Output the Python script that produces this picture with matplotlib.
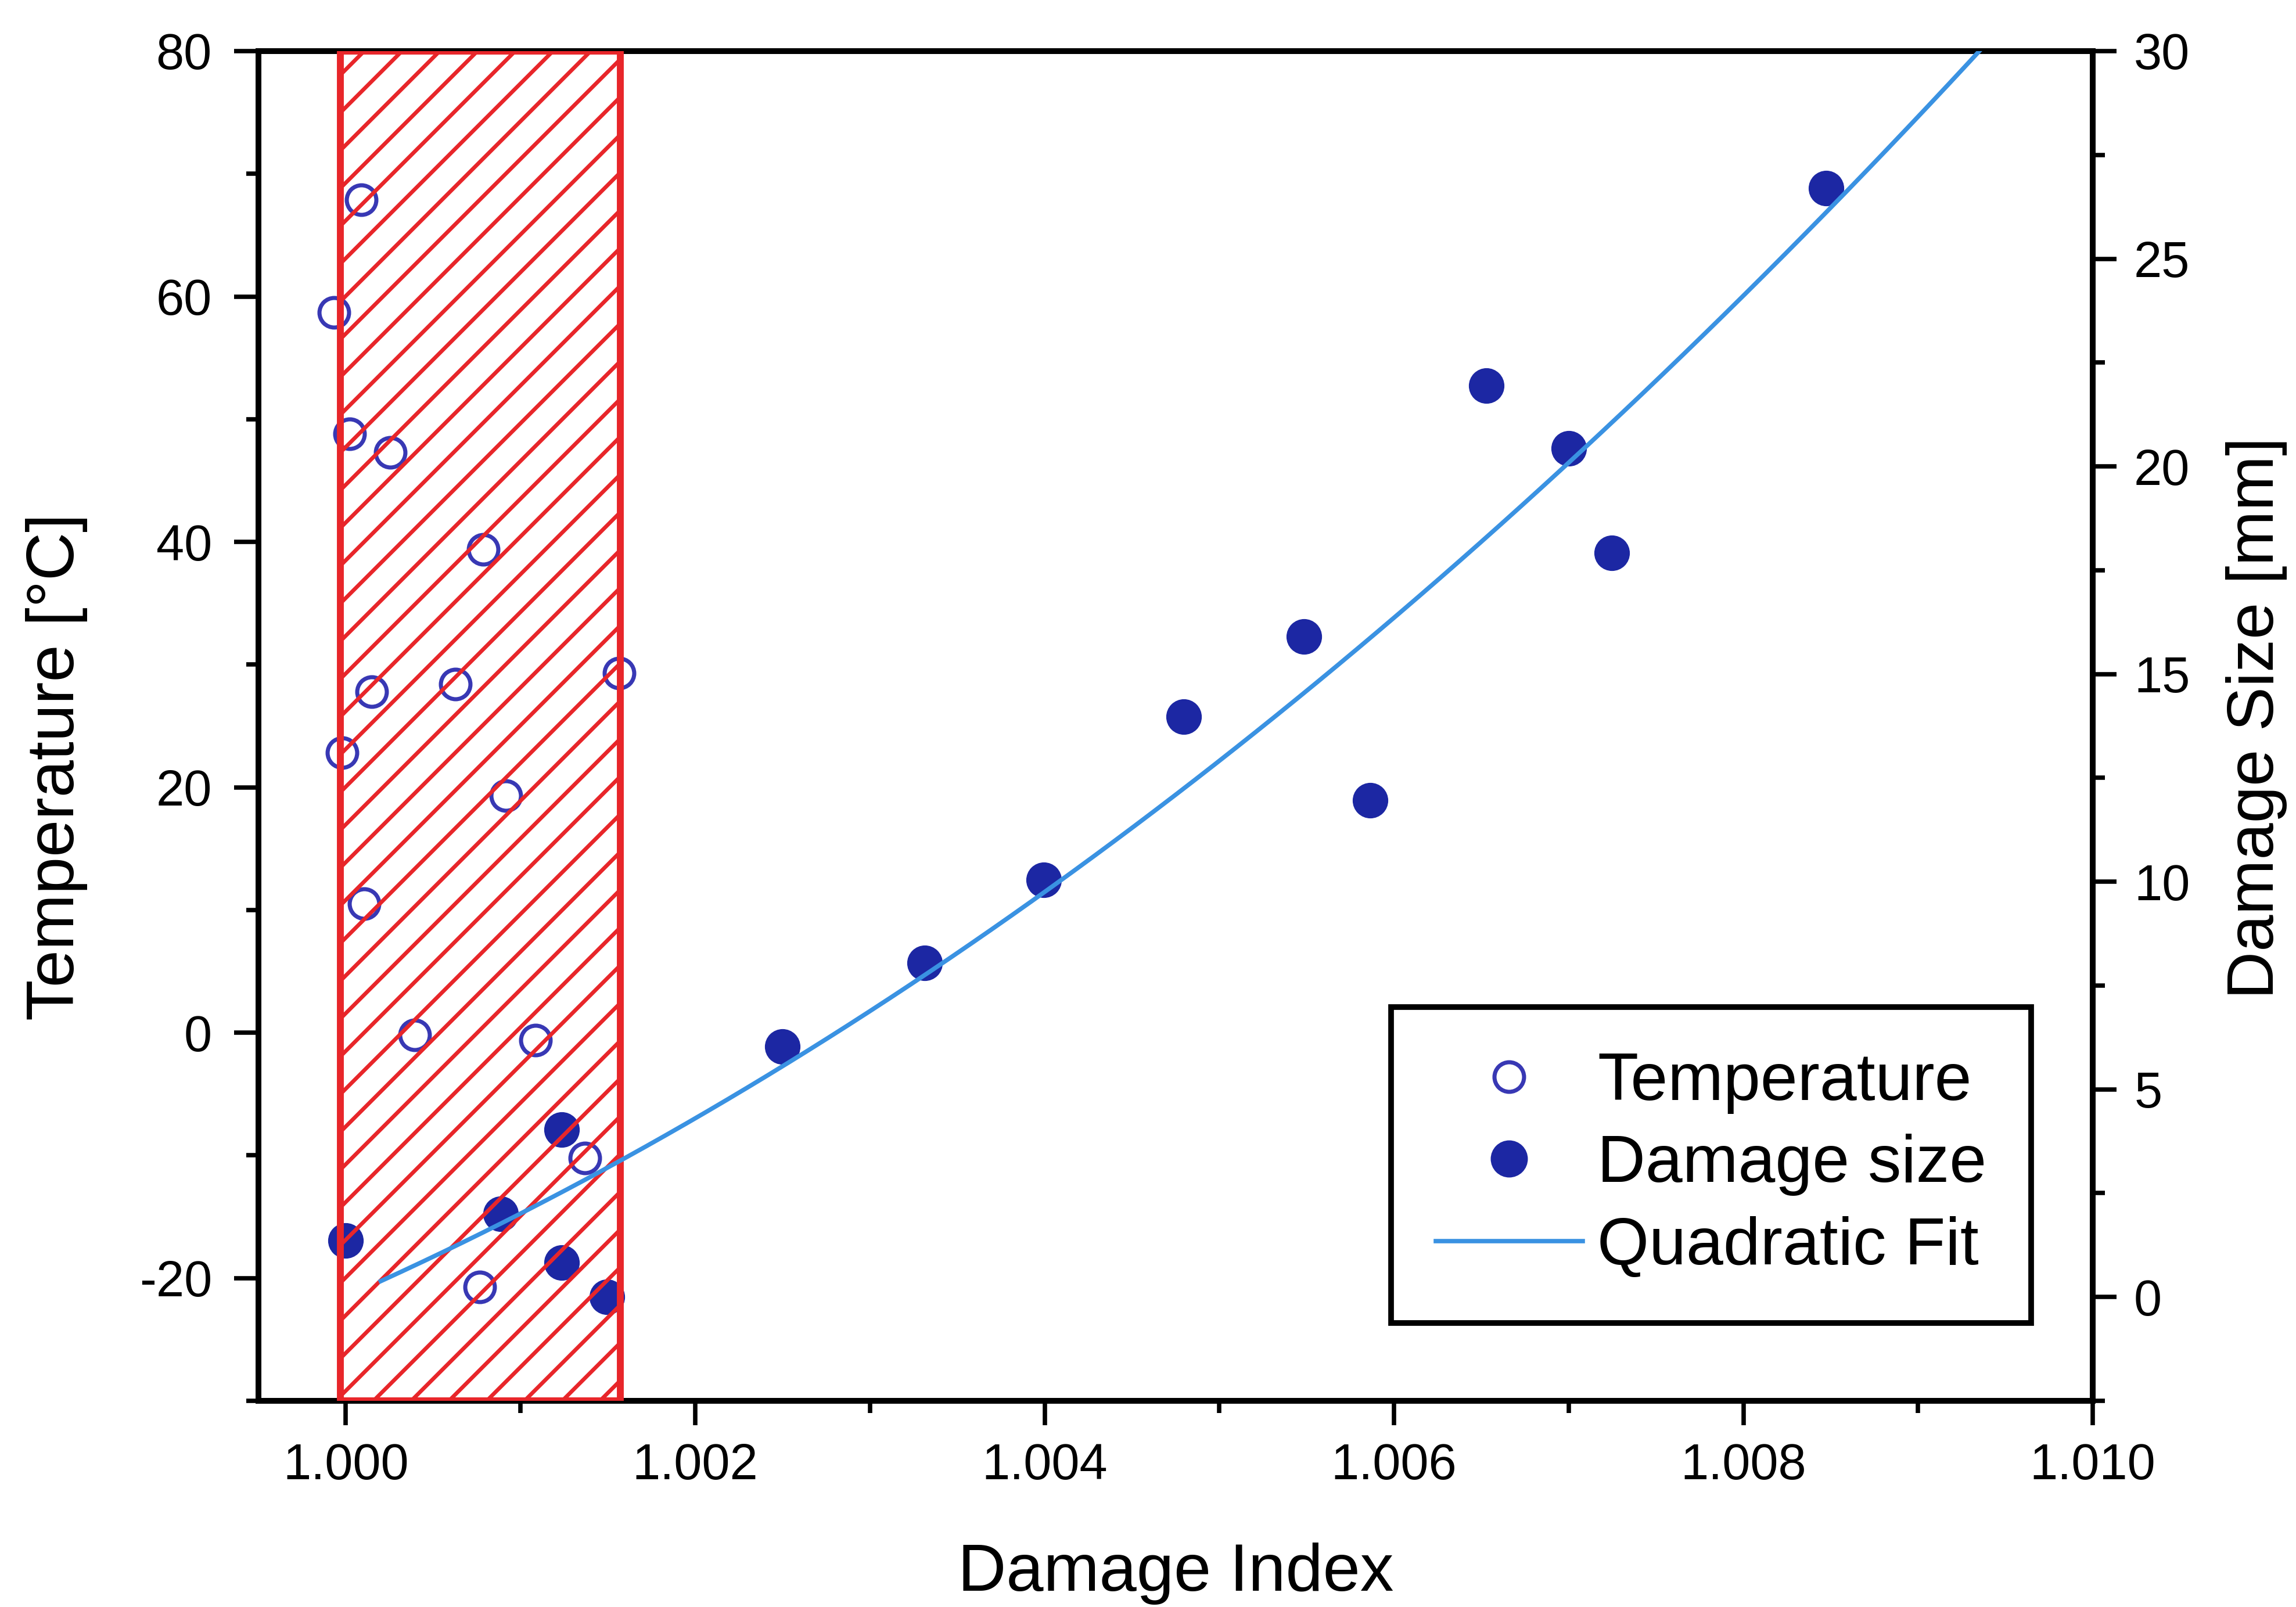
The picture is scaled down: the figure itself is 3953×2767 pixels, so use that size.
import numpy as np
import matplotlib
matplotlib.use("Agg")
import matplotlib.pyplot as plt
from matplotlib.lines import Line2D
from matplotlib.ticker import MultipleLocator, FormatStrFormatter

plt.rcParams["font.family"] = ["Liberation Sans", "DejaVu Sans"]
plt.rcParams["axes.unicode_minus"] = False
plt.rcParams["hatch.linewidth"] = 1.25

# Temperature test points (damage index, temperature in degC)
temp_index = [1.000087, 0.999933, 1.000023, 1.000254, 1.000788, 1.000147,
              1.000628, 1.001563, 0.999977, 1.000915, 1.000104, 1.000394,
              1.001085, 1.001369, 1.000765]
temp_values = [67.9, 58.7, 48.8, 47.3, 39.4, 27.8,
               28.4, 29.3, 22.8, 19.3, 10.5, -0.2,
               -0.6, -10.2, -20.7]

# Damage size test points (damage index, damage size in mm)
dmg_index = [0.999997, 1.000885, 1.001235, 1.001235, 1.001496, 1.002497,
             1.003313, 1.003995, 1.004795, 1.005485, 1.005864, 1.006529,
             1.007000, 1.007245, 1.008474]
dmg_values = [1.36, 2.0, 4.03, 0.83, 0.0, 6.03,
              8.04, 10.05, 13.97, 15.9, 11.96, 21.95,
              20.43, 17.92, 26.7]

# Temperature-insensitive band of the damage index
band_range = (0.99997, 1.00157)
# Range over which the quadratic fit is drawn
fit_range = (1.0002, 1.0095)

x_limits = (0.9995, 1.010)
temp_limits = (-30, 80)
size_limits = (-2.5, 30)

DPI = 390
fig = plt.figure(figsize=(3953 / DPI, 2767 / DPI), dpi=DPI)
ax = fig.add_axes([0.1126, 0.1283, 0.7989, 0.8399])
ax2 = ax.twinx()

open_col = "#3838b4"
fill_col = "#1c27a3"
fit_col = "#3a92e2"
band_col = "#e8262a"

ax.plot(temp_index, temp_values, ls="none", marker="o", ms=9.4,
        mfc="none", mec=open_col, mew=1.3, zorder=3)

ax2.plot(dmg_index, dmg_values, ls="none", marker="o", ms=10.8,
         mfc=fill_col, mec=fill_col, mew=0.5, zorder=2)

ax2.axvspan(band_range[0], band_range[1], fill=False, hatch="//",
            edgecolor=band_col, lw=2.2, zorder=4)

# Quadratic least-squares fit of damage size against damage index
u = np.asarray(dmg_index) - 1.0
coef = np.polyfit(u, dmg_values, 2)
xf = np.linspace(fit_range[0], fit_range[1], 400)
yf = np.polyval(coef, xf - 1.0)
ax2.plot(xf, yf, color=fit_col, lw=1.4, zorder=5)

ax.set_xlim(*x_limits)
ax.set_ylim(*temp_limits)
ax2.set_ylim(*size_limits)

ax.xaxis.set_major_locator(MultipleLocator(0.002))
ax.xaxis.set_minor_locator(MultipleLocator(0.001))
ax.xaxis.set_major_formatter(FormatStrFormatter("%.3f"))
ax.yaxis.set_major_locator(MultipleLocator(20))
ax.yaxis.set_minor_locator(MultipleLocator(10))
ax2.yaxis.set_major_locator(MultipleLocator(5))
ax2.yaxis.set_minor_locator(MultipleLocator(2.5))

for a in (ax, ax2):
    for sp in a.spines.values():
        sp.set_linewidth(1.8)
ax.tick_params(axis="both", which="major", direction="out", length=7.8,
               width=1.4, labelsize=16)
ax.tick_params(axis="both", which="minor", direction="out", length=3.9,
               width=1.4)
ax.tick_params(axis="y", which="major", pad=7.0)
ax.tick_params(axis="x", which="major", pad=5.5)
ax.tick_params(top=False, which="both")
ax2.tick_params(axis="y", which="major", direction="out", length=7.6,
                width=1.4, labelsize=16, pad=5.5)
ax2.tick_params(axis="y", which="minor", direction="out", length=3.9,
                width=1.4)

ax.set_xlabel("Damage Index", fontsize=21.3)
ax.set_ylabel("Temperature [°C]", fontsize=21.3)
ax2.set_ylabel("Damage Size [mm]", fontsize=21)
ax.xaxis.set_label_coords(0.5, -0.105)
ax.yaxis.set_label_coords(-0.093, 0.4695)
ax2.yaxis.set_label_coords(1.0725, 0.506)

handles = [
    Line2D([], [], ls="none", marker="o", ms=9.4, mfc="none",
           mec=open_col, mew=1.3),
    Line2D([], [], ls="none", marker="o", ms=10.8, mfc=fill_col,
           mec=fill_col),
    Line2D([], [], color=fit_col, lw=1.4),
]
labels = ["Temperature", "Damage size", "Quadratic Fit"]
leg = ax2.legend(handles, labels, loc="upper left",
                 bbox_to_anchor=(0.6059, 0.3733),
                 bbox_transform=fig.transFigure, fontsize=21.2,
                 frameon=True, fancybox=False, framealpha=1,
                 edgecolor="black", borderpad=0.67, labelspacing=0.3,
                 handlelength=2.2, handletextpad=0.22, borderaxespad=0)
leg.get_frame().set_linewidth(1.8)
leg.set_zorder(10)

fig.savefig("out.png", dpi=DPI)
